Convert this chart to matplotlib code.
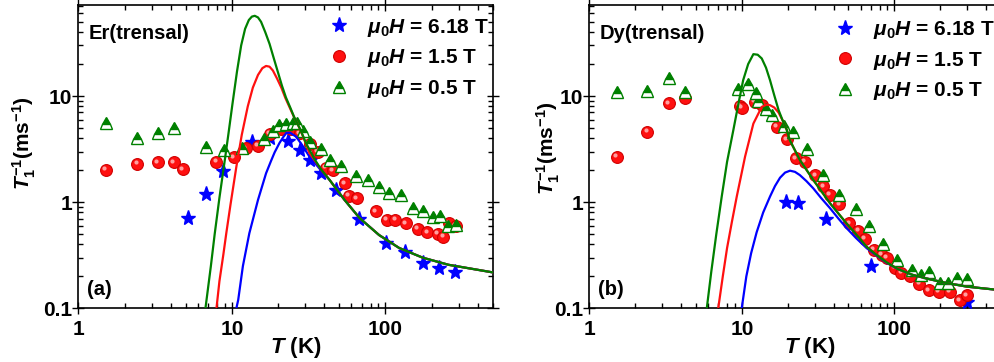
import matplotlib
matplotlib.use('Agg')
import matplotlib.pyplot as plt
from matplotlib.ticker import LogLocator, NullFormatter
from matplotlib.transforms import offset_copy

plt.rcParams['font.family'] = ['Liberation Sans', 'DejaVu Sans']
plt.rcParams['font.weight'] = 'bold'
plt.rcParams['mathtext.fontset'] = 'custom'
plt.rcParams['mathtext.it'] = 'Liberation Sans:italic:bold'
plt.rcParams['mathtext.rm'] = 'Liberation Sans:bold'
plt.rcParams['mathtext.bf'] = 'Liberation Sans:bold'

# ---- Er(trensal), panel (a) ----
er_star_T = [5.19, 6.83, 8.76, 13.5, 17.6, 23.2, 27.6, 32.4, 38.2, 48.0, 67.8, 101, 135, 175, 222, 285]
er_star_v = [0.71, 1.19, 1.97, 3.72, 4.0, 3.8, 3.1, 2.5, 1.87, 1.31, 0.69, 0.41, 0.34, 0.267, 0.239, 0.222]

er_circ_T = [1.51, 2.42, 3.31, 4.21, 4.81, 7.94, 10.3, 12.3, 14.8, 17.6, 21.0, 24.4, 27.6, 32.1, 36.3,
             41.1, 45.4, 54.2, 57.7, 65, 87, 102, 116, 136, 162, 188, 219, 238, 258, 288]
er_circ_v = [2.01, 2.29, 2.38, 2.38, 2.04, 2.41, 2.65, 3.22, 3.39, 4.39, 4.86, 4.86, 4.46, 3.55, 2.96,
             2.12, 2.0, 1.51, 1.15, 1.09, 0.82, 0.68, 0.68, 0.63, 0.56, 0.52, 0.50, 0.47, 0.63, 0.60]

er_tri_T = [1.51, 2.42, 3.31, 4.21, 6.76, 8.89, 11.6, 16.2, 18.4, 20.4, 22.5, 24.9, 26.5, 29.0, 32.4,
            38.2, 43.3, 51.5, 64.5, 76.8, 91.4, 106, 126, 152, 177, 203, 226, 254, 288]
er_tri_v = [5.54, 4.0, 4.52, 4.97, 3.34, 3.1, 3.26, 3.92, 4.7, 5.3, 5.45, 5.52, 5.6, 4.7, 3.72,
            3.15, 2.5, 2.2, 1.77, 1.62, 1.4, 1.22, 1.17, 0.89, 0.83, 0.73, 0.74, 0.59, 0.61]

# fitted curves
er_fit_blue_T = [10.7, 11.0, 11.8, 13.0, 14.8, 16.7, 18.0, 19.0, 20.4, 21.6, 22.7, 24.0, 26.2, 28.5,
                 32, 38, 43.3, 54.2, 67.8, 91, 123, 175, 258, 500]
er_fit_blue_v = [0.1, 0.12, 0.25, 0.51, 1.05, 1.87, 2.45, 2.95, 3.6, 4.1, 4.5, 4.5, 4.14, 3.5,
                 2.69, 2.0, 1.62, 1.05, 0.71, 0.49, 0.37, 0.30, 0.257, 0.218]
er_fit_red_T = [7.94, 8.3, 8.8, 9.2, 9.8, 10.7, 11.6, 12.7, 13.7, 14.8, 15.8, 16.7, 17.6, 18.5, 19.7,
                21.0, 22.3, 23.7, 25.2, 26.9, 29.0, 32, 38, 43.3, 54.2, 67.8, 91, 123, 175, 258, 500]
er_fit_red_v = [0.1, 0.18, 0.32, 0.51, 0.95, 2.16, 4.3, 8.0, 12.0, 15.8, 18.3, 19.2, 18.9, 17.4, 14.6,
                12.0, 9.6, 7.9, 6.5, 5.4, 4.2, 2.9, 2.05, 1.62, 1.05, 0.71, 0.49, 0.37, 0.30, 0.257, 0.218]
er_fit_green_T = [6.73, 7.3, 7.73, 8.3, 9.0, 9.5, 10.1, 10.8, 11.5, 12.2, 12.9, 13.5, 14.1, 14.8, 15.5,
                  16.5, 17.6, 18.7, 19.9, 21.2, 22.5, 24.0, 25.5, 28.0, 30.4, 34.5, 38, 43.3, 54.2,
                  67.8, 91, 123, 175, 258, 500]
er_fit_green_v = [0.1, 0.25, 0.5, 1.1, 2.5, 4.4, 8.5, 17, 30, 43, 52, 56, 57, 55, 50,
                  40, 31, 23, 17, 12.5, 9.7, 7.8, 6.3, 4.8, 3.6, 2.55, 2.05, 1.62, 1.05,
                  0.71, 0.49, 0.37, 0.30, 0.257, 0.218]

# ---- Dy(trensal), panel (b) ----
dy_star_T = [19.4, 23.4, 35.6, 69.8, 298]
dy_star_v = [1.01, 0.99, 0.69, 0.252, 0.114]

dy_circ_T = [1.51, 2.4, 3.33, 4.24, 9.7, 10.0, 12.2, 13.5, 16.9, 19.7, 22.6, 26.0, 30.4, 34.2, 37.8,
             43.6, 50.6, 58, 64, 73.6, 82.6, 89.4, 101, 111, 126, 146, 169, 195, 231, 269, 298]
dy_circ_v = [2.69, 4.62, 8.54, 9.64, 8.05, 7.7, 8.8, 8.2, 5.14, 3.9, 2.59, 2.41, 1.79, 1.41, 1.17,
             0.957, 0.634, 0.54, 0.45, 0.356, 0.319, 0.30, 0.24, 0.215, 0.2, 0.171, 0.148, 0.142, 0.142, 0.119, 0.133]

dy_tri_T = [1.51, 2.4, 3.33, 4.24, 9.49, 11.0, 12.4, 12.8, 14.4, 15.7, 18.9, 21.8, 26.6, 34.2, 43.3,
            56.1, 68.6, 83.9, 103.5, 130, 150, 169, 199, 226, 256, 298]
dy_tri_v = [11.0, 11.2, 14.9, 10.8, 11.7, 12.9, 10.7, 8.9, 7.5, 6.6, 5.2, 4.6, 3.15, 1.8, 1.18,
            0.86, 0.6, 0.405, 0.285, 0.23, 0.205, 0.218, 0.173, 0.174, 0.195, 0.188]

dy_fit_blue_T = [9.98, 10.7, 11.5, 12.5, 13.8, 15.3, 16.5, 17.8, 19.2, 20.7, 22.3, 24, 26.5, 29.4, 33,
                 37.8, 43, 48.6, 56, 65.8, 75, 89.4, 105, 131, 170, 220, 300, 500]
dy_fit_blue_v = [0.1, 0.2, 0.33, 0.52, 0.8, 1.13, 1.42, 1.7, 1.9, 1.98, 1.93, 1.8, 1.58, 1.35, 1.1,
                 0.88, 0.7, 0.57, 0.46, 0.369, 0.32, 0.267, 0.235, 0.207, 0.188, 0.173, 0.16, 0.148]
dy_fit_red_T = [7.0, 7.5, 8.0, 8.6, 9.26, 10.5, 11.9, 13.5, 14.5, 15.3, 16.3, 17.4, 18.5, 19.7, 20.6,
                24, 29.4, 37.8, 48.6, 56, 65.8, 75, 89.4, 105, 131, 170, 220, 300, 500]
dy_fit_red_v = [0.1, 0.2, 0.37, 0.65, 1.13, 2.69, 5.5, 7.9, 8.3, 8.2, 7.8, 7.0, 5.9, 4.8, 3.85,
                2.5, 1.62, 0.98, 0.63, 0.5, 0.38, 0.325, 0.27, 0.235, 0.207, 0.188, 0.173, 0.16, 0.148]
dy_fit_green_T = [5.89, 6.3, 6.8, 7.38, 8.0, 8.8, 9.5, 10.2, 11.0, 11.9, 12.7, 13.5, 14.4, 15.3, 16.3,
                  17.4, 18.5, 19.7, 20.6, 24, 29.4, 37.8, 48.6, 56, 65.8, 75, 89.4, 105, 131, 170, 220, 300, 500]
dy_fit_green_v = [0.1, 0.22, 0.5, 1.13, 2.4, 4.8, 8.5, 14.1, 20, 24.8, 24.5, 22.6, 18.5, 14.1, 10.2,
                  7.4, 5.9, 4.8, 3.85, 2.5, 1.62, 0.98, 0.63, 0.5, 0.38, 0.325, 0.27, 0.235, 0.207, 0.188, 0.173, 0.16, 0.148]

legend_labels = [r'$\mu_0H$ = 6.18 T', r'$\mu_0H$ = 1.5 T', r'$\mu_0H$ = 0.5 T']
xtick_vals = [1, 10, 100]
xtick_labels = ['1', '10', '100']
ytick_vals = [0.1, 1, 10]
ytick_labels = ['0.1', '1', '10']

BLUE = '#0000ff'
RED = '#ff1010'
GREEN = '#008000'


def draw_panel(ax, stars, circles, tris, fits, name, tag, leg_anchor, ylab_xy, xlab_x):
    h1, = ax.plot(*stars, ls='none', marker='*', ms=11, color=BLUE, mec=BLUE, zorder=3)
    h2, = ax.plot(*circles, ls='none', marker='o', ms=8.5, mfc=RED, mec='#d00000', mew=0.8, zorder=3)
    # little highlight on the spheres
    shine = offset_copy(ax.transData, fig=ax.figure, x=-1.2, y=1.2, units='points')
    ax.plot(*circles, ls='none', marker='o', ms=3, mfc='#ffb0b0', mec='none', alpha=0.9,
            transform=shine, zorder=3)
    h3, = ax.plot(*tris, ls='none', marker='^', ms=9, fillstyle='top', mfc=GREEN,
                  markerfacecoloralt='white', mec=GREEN, mew=1.0, zorder=3)
    for (t, v), c in zip(fits, [BLUE, RED, GREEN]):
        ax.plot(t, v, color=c, lw=1.6, zorder=4)

    ax.set_xscale('log')
    ax.set_yscale('log')
    ax.set_xlim(1, 500)
    ax.set_ylim(0.1, 72)
    ax.set_xticks(xtick_vals)
    ax.set_xticklabels(xtick_labels)
    ax.set_yticks(ytick_vals)
    ax.set_yticklabels(ytick_labels)
    for axis in (ax.xaxis, ax.yaxis):
        axis.set_minor_locator(LogLocator(base=10, subs=range(2, 10)))
        axis.set_minor_formatter(NullFormatter())
    ax.tick_params(which='both', top=True, right=True, labelsize=15, width=1.0)
    ax.tick_params(which='major', direction='inout', length=8)
    ax.tick_params(which='minor', direction='in', length=3.5)
    ax.tick_params(axis='x', which='major', pad=4.5)
    ax.tick_params(axis='y', which='major', pad=0.5)
    for s in ax.spines.values():
        s.set_linewidth(1.2)

    ax.set_xlabel(r'$T$ (K)', fontsize=16, fontweight='bold')
    ax.xaxis.set_label_coords(xlab_x, -0.088)
    ax.set_ylabel(r'$T_1^{-1}$(ms$^{-1}$)', fontsize=15, fontweight='bold')
    ax.yaxis.set_label_coords(*ylab_xy)

    ax.text(0.024, 0.906, name, transform=ax.transAxes, fontsize=14.5, fontweight='bold',
            ha='left', va='center')
    ax.text(0.020, 0.062, tag, transform=ax.transAxes, fontsize=14.5, fontweight='bold',
            ha='left', va='center')

    ax.legend([h1, h2, h3], legend_labels, loc='upper left', bbox_to_anchor=leg_anchor,
              frameon=False, fontsize=15, handlelength=0.95, handletextpad=0.85,
              labelspacing=0.42, borderpad=0, borderaxespad=0)


fig = plt.figure(figsize=(9.95, 3.62), dpi=100)
ax1 = fig.add_axes([0.0787, 0.1483, 0.4165, 0.8378])
ax2 = fig.add_axes([0.5923, 0.1483, 0.4137, 0.8378])

draw_panel(ax1, (er_star_T, er_star_v), (er_circ_T, er_circ_v), (er_tri_T, er_tri_v),
           [(er_fit_blue_T, er_fit_blue_v), (er_fit_red_T, er_fit_red_v), (er_fit_green_T, er_fit_green_v)],
           'Er(trensal)', '(a)', (0.606, 0.962), (-0.097, 0.545), 0.525)
draw_panel(ax2, (dy_star_T, dy_star_v), (dy_circ_T, dy_circ_v), (dy_tri_T, dy_tri_v),
           [(dy_fit_blue_T, dy_fit_blue_v), (dy_fit_red_T, dy_fit_red_v), (dy_fit_green_T, dy_fit_green_v)],
           'Dy(trensal)', '(b)', (0.598, 0.954), (-0.066, 0.528), 0.536)

fig.savefig('out.png', dpi=100)
